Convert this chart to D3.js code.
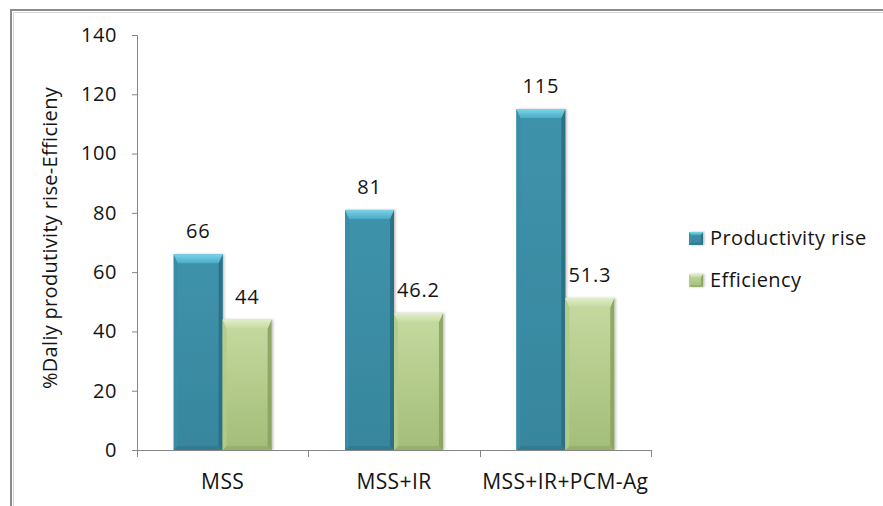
<!DOCTYPE html>
<html>
<head>
<meta charset="utf-8">
<script src="https://cdn.jsdelivr.net/npm/d3@7/dist/d3.min.js"></script>
<style>
  html, body { margin: 0; padding: 0; background: #fff; }
  svg { display: block; }
  text { font-family: "Open Sans", sans-serif; fill: #141414; }
</style>
</head>
<body>
<svg id="chart" width="883" height="506"></svg>
<script>
const categories = ["MSS", "MSS+IR", "MSS+IR+PCM-Ag"];
const seriesNames = ["Productivity rise", "Efficiency"];
const productivityRise = [66, 81, 115];
const efficiency = [44, 46.2, 51.3];
const yTicks = [0, 20, 40, 60, 80, 100, 120, 140];
const yTitle = "%Daliy produtivity rise-Efficieny";

const seriesValues = [productivityRise, efficiency];
const rows = categories.map((c, i) => ({
  cat: c,
  vals: seriesNames.map((s, j) => ({ series: s, idx: j, value: seriesValues[j][i] }))
}));

const svg = d3.select("#chart");
const W = 883, H = 506;
const plot = { left: 137, right: 651, top: 35, bottom: 450 };

const palette = [
  { face0: "#3E93AB", face1: "#37869D", top0: "#7AD4EC", top1: "#4BAAC4", left: "#3A8DA5", right: "#2C6E82", bottom: "#2F7488" },
  { face0: "#C6DAA0", face1: "#A3BD79", top0: "#E2EEC9", top1: "#C6DAA2", left: "#B3CB8A", right: "#89A35E", bottom: "#8EA866" }
];

const defs = svg.append("defs");
palette.forEach((p, i) => {
  const g = defs.append("linearGradient").attr("id", "face" + i)
    .attr("x1", 0).attr("y1", 0).attr("x2", 0).attr("y2", 1);
  g.append("stop").attr("offset", "0%").attr("stop-color", p.face0);
  g.append("stop").attr("offset", "100%").attr("stop-color", p.face1);
  const t = defs.append("linearGradient").attr("id", "top" + i)
    .attr("x1", 0).attr("y1", 0).attr("x2", 0).attr("y2", 1);
  t.append("stop").attr("offset", "0%").attr("stop-color", p.top0);
  t.append("stop").attr("offset", "100%").attr("stop-color", p.top1);
});
const shadow = defs.append("filter").attr("id", "shadow")
  .attr("x", "-20%").attr("y", "-20%").attr("width", "150%").attr("height", "140%");
shadow.append("feDropShadow").attr("dx", 1.5).attr("dy", 0).attr("stdDeviation", 1.2)
  .attr("flood-color", "#000").attr("flood-opacity", 0.25);

// chart frame
svg.append("path").attr("d", `M11,${H} V10 H${W}`)
  .attr("fill", "none").attr("stroke", "#8a8a8a").attr("stroke-width", 2);
svg.append("path").attr("d", `M13.5,${H} V12.5 H${W}`)
  .attr("fill", "none").attr("stroke", "#d6d6d6").attr("stroke-width", 1);

// scales
const x0 = d3.scaleBand().domain(categories).range([plot.left, plot.right]).paddingInner(0).paddingOuter(0);
const x1 = d3.scaleBand().domain(seriesNames).range([0, x0.bandwidth()]).paddingInner(0).paddingOuter(0.75);
const y = d3.scaleLinear().domain([0, 140]).range([plot.bottom, plot.top]);

// y axis
const yAxis = svg.append("g").attr("transform", `translate(${plot.left},0)`)
  .call(d3.axisLeft(y).tickValues(yTicks).tickSize(5).tickPadding(15));
yAxis.select(".domain").attr("stroke", "#868686");
yAxis.selectAll(".tick line").attr("stroke", "#868686");
yAxis.selectAll(".tick text").style("font-family", "'Open Sans', sans-serif")
  .style("font-size", "20px").style("fill", "#141414").attr("letter-spacing", "0.6px");

// y title
svg.append("text")
  .attr("transform", `translate(57,238) rotate(-90)`)
  .attr("text-anchor", "middle").style("font-size", "20px").attr("letter-spacing", "0.3px").text(yTitle);

function bevelBar(g, x, yTop, w, h, p, i, b, s) {
  g.append("rect").attr("x", x).attr("y", yTop).attr("width", w).attr("height", h)
    .attr("fill", `url(#face${i})`).attr("filter", "url(#shadow)");
  const pts = a => a.map(q => q.join(",")).join(" ");
  g.append("polygon").attr("points", pts([[x, yTop + h], [x + s, yTop + h - s], [x + w - s, yTop + h - s], [x + w, yTop + h]]))
    .attr("fill", p.bottom).attr("opacity", 0.6);
  g.append("polygon").attr("points", pts([[x, yTop], [x + s, yTop + b], [x + s, yTop + h - s], [x, yTop + h]]))
    .attr("fill", p.left).attr("opacity", 0.9);
  g.append("polygon").attr("points", pts([[x + w, yTop], [x + w - s, yTop + b], [x + w - s, yTop + h - s], [x + w, yTop + h]]))
    .attr("fill", p.right).attr("opacity", 0.9);
  g.append("polygon").attr("points", pts([[x, yTop], [x + w, yTop], [x + w - s, yTop + b], [x + s, yTop + b]]))
    .attr("fill", `url(#top${i})`);
}

const barsG = svg.append("g");
rows.forEach(r => {
  r.vals.forEach(v => {
    const bx = x0(r.cat) + x1(v.series);
    const bw = x1.bandwidth();
    const by = y(v.value);
    const bh = y(0) - by;
    const g = barsG.append("g");
    bevelBar(g, bx, by, bw, bh, palette[v.idx], v.idx, 9, 4);
    svg.append("text").attr("x", bx + bw / 2).attr("y", by - 16)
      .attr("text-anchor", "middle").style("font-size", "20px").attr("letter-spacing", "0.8px")
      .text(v.value);
  });
});

// x axis
const xAxisG = svg.append("g");
xAxisG.append("line").attr("x1", plot.left).attr("x2", plot.right)
  .attr("y1", plot.bottom + 0.5).attr("y2", plot.bottom + 0.5).attr("stroke", "#868686");
const bounds = categories.map(c => x0(c)).concat([x0(categories[categories.length - 1]) + x0.bandwidth()]);
bounds.forEach(bx => {
  xAxisG.append("line").attr("x1", Math.round(bx) + 0.5).attr("x2", Math.round(bx) + 0.5)
    .attr("y1", plot.bottom).attr("y2", plot.bottom + 7).attr("stroke", "#868686");
});
categories.forEach(c => {
  xAxisG.append("text").attr("x", x0(c) + x0.bandwidth() / 2).attr("y", 489)
    .attr("text-anchor", "middle").style("font-size", "21px").attr("letter-spacing", "0.4px").text(c);
});

// legend
const legend = svg.append("g");
seriesNames.forEach((s, i) => {
  const ly = 232 + i * 42;
  const g = legend.append("g");
  bevelBar(g, 689, ly, 14, 13, palette[i], i, 3, 2);
  legend.append("text").attr("x", 710).attr("y", ly + 13)
    .style("font-size", "20px").attr("letter-spacing", "0.4px").text(s);
});
</script>
</body>
</html>
